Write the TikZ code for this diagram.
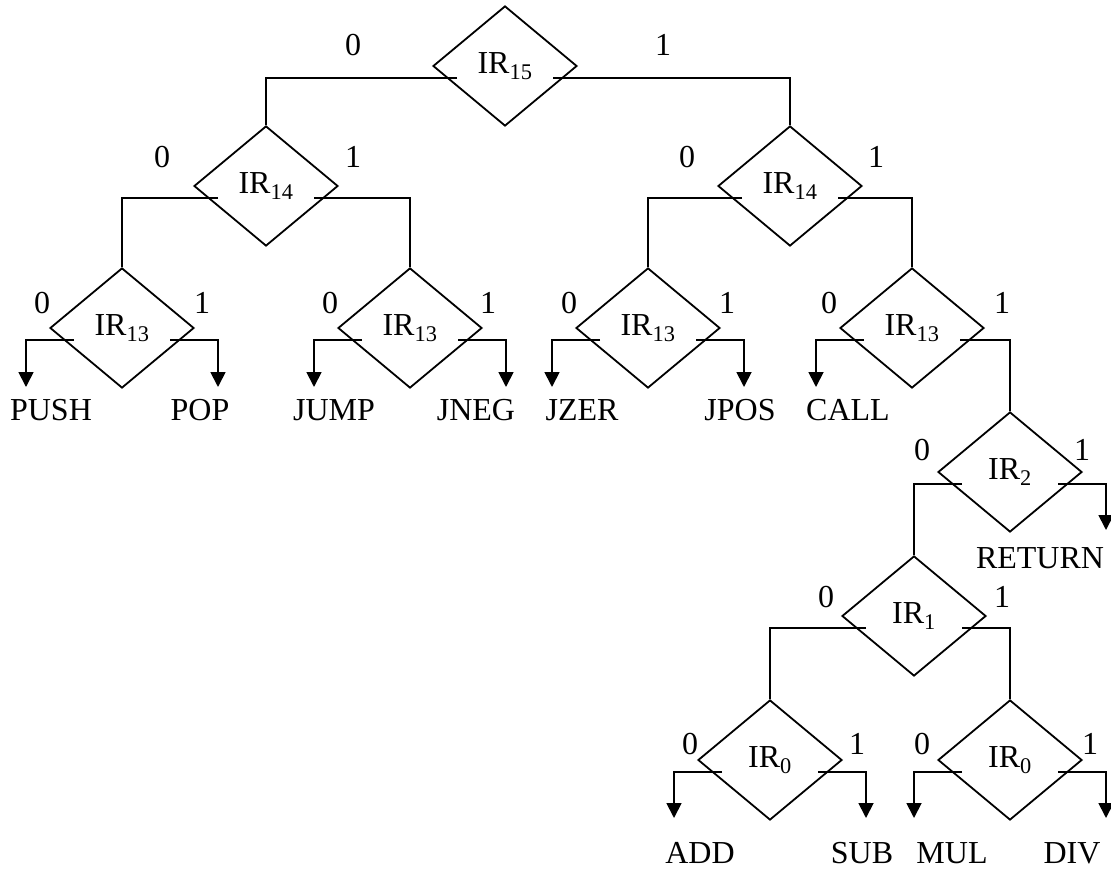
\documentclass[tikz,border=0pt]{standalone}
\usepackage{fontspec}
\setmainfont{Liberation Serif}
\usetikzlibrary{shapes.geometric,arrows.meta}

\tikzset{
  decision/.style={draw, diamond, minimum width=144pt, minimum height=120pt, inner sep=0pt, line width=1.8pt},
  wire/.style={line width=1.8pt},
  arr/.style={line width=1.8pt, -{Triangle[width=15pt,length=15pt]}},
}

\begin{document}
\begin{tikzpicture}[x=1pt, y=-1pt, every node/.append style={font=\fontsize{32}{38}\selectfont}]
			\useasboundingbox (0,0) rectangle (1111,870);
			% Decoding tree for the instruction register bits
			\node[decision] (ir15) at (505,66) {IR\textsubscript{15}};
			\node[decision] (ir14a) at (266,186) {IR\textsubscript{14}};
			\node[decision] (ir14b) at (790,186) {IR\textsubscript{14}};
			
			\node[decision] (ir13a) at (122,328) {IR\textsubscript{13}};
			\node[decision] (ir13b) at (410,328) {IR\textsubscript{13}};
			\node[decision] (ir13c) at (648,328) {IR\textsubscript{13}};
			\node[decision] (ir13d) at (912,328) {IR\textsubscript{13}};
			
			\node[decision] (ir2) at (1010,472) {IR\textsubscript{2}};
			\node[decision] (ir1) at (914,616) {IR\textsubscript{1}};
			\node[decision] (ir0a) at (770,760) {IR\textsubscript{0}};
			\node[decision] (ir0b) at (1010,760) {IR\textsubscript{0}};
			
			% operation names
			\node (push) at (51,410) {PUSH};
			\node (pop) at (200,410) {POP};
			\node (jump) at (334,410) {JUMP};
			\node (jneg) at (476,410) {JNEG};
			\node (jzer) at (582,410) {JZER};
			\node (jpos) at (740,410) {JPOS};
			\node (call) at (848,410) {CALL};
			\node (return) at (1040,558) {RETURN};
			\node (add) at (700,853) {ADD};
			\node (sub) at (862,853) {SUB};
			\node (mul) at (952,853) {MUL};
			\node (div) at (1072,853) {DIV};
			
			% arrow ends
			\coordinate (pushend) at (26,387);
			\coordinate (popend) at (218,387);
			\coordinate (jumpend) at (314,387);
			\coordinate (jnegend) at (506,387);
			\coordinate (jzerend) at (552,387);
			\coordinate (jposend) at (744,387);
			\coordinate (callend) at (816,387);
			\coordinate (returnend) at (1106,530);
			\coordinate (addend) at (674,818);
			\coordinate (subend) at (866,818);
			\coordinate (mulend) at (914,818);
			\coordinate (divend) at (1106,818);
			
			% branches between decisions
			\draw[wire] ([shift={(-48,12)}]ir15.center) -| (ir14a.north);
			\draw[wire] ([shift={(48,12)}]ir15.center) -| (ir14b.north);
			\draw[wire] ([shift={(-48,12)}]ir14a.center) -| (ir13a.north);
			\draw[wire] ([shift={(48,12)}]ir14a.center) -| (ir13b.north);
			\draw[wire] ([shift={(-48,12)}]ir14b.center) -| (ir13c.north);
			\draw[wire] ([shift={(48,12)}]ir14b.center) -| (ir13d.north);
			\draw[wire] ([shift={(48,12)}]ir13d.center) -| (ir2.north);
			\draw[wire] ([shift={(-48,12)}]ir2.center) -| (ir1.north);
			\draw[wire] ([shift={(-48,12)}]ir1.center) -| (ir0a.north);
			\draw[wire] ([shift={(48,12)}]ir1.center) -| (ir0b.north);
			
			% branches to operations
			\draw[arr] ([shift={(-48,12)}]ir13a.center) -| (pushend);
			\draw[arr] ([shift={(48,12)}]ir13a.center) -| (popend);
			\draw[arr] ([shift={(-48,12)}]ir13b.center) -| (jumpend);
			\draw[arr] ([shift={(48,12)}]ir13b.center) -| (jnegend);
			\draw[arr] ([shift={(-48,12)}]ir13c.center) -| (jzerend);
			\draw[arr] ([shift={(48,12)}]ir13c.center) -| (jposend);
			\draw[arr] ([shift={(-48,12)}]ir13d.center) -| (callend);
			\draw[arr] ([shift={(48,12)}]ir2.center) -| (returnend);
			\draw[arr] ([shift={(-48,12)}]ir0a.center) -| (addend);
			\draw[arr] ([shift={(48,12)}]ir0a.center) -| (subend);
			\draw[arr] ([shift={(-48,12)}]ir0b.center) -| (mulend);
			\draw[arr] ([shift={(48,12)}]ir0b.center) -| (divend);
			
			% bit values
			\node (b15z) at (353,45) {0};
			\node (b15o) at (663,45) {1};
			\node (b14az) at (162,157) {0};
			\node (b14ao) at (353,157) {1};
			\node (b14bz) at (687,157) {0};
			\node (b14bo) at (876,157) {1};
			\node (b13az) at (42,303) {0};
			\node (b13ao) at (202,303) {1};
			\node (b13bz) at (330,303) {0};
			\node (b13bo) at (488,303) {1};
			\node (b13cz) at (569,303) {0};
			\node (b13co) at (727,303) {1};
			\node (b13dz) at (829,303) {0};
			\node (b13do) at (1002,303) {1};
			\node (b2z) at (922,450) {0};
			\node (b2o) at (1082,450) {1};
			\node (b1z) at (826,597) {0};
			\node (b1o) at (1002,597) {1};
			\node (b0az) at (690,744) {0};
			\node (b0ao) at (857,744) {1};
			\node (b0bz) at (922,744) {0};
			\node (b0bo) at (1090,744) {1};
		\end{tikzpicture}
\end{document}
